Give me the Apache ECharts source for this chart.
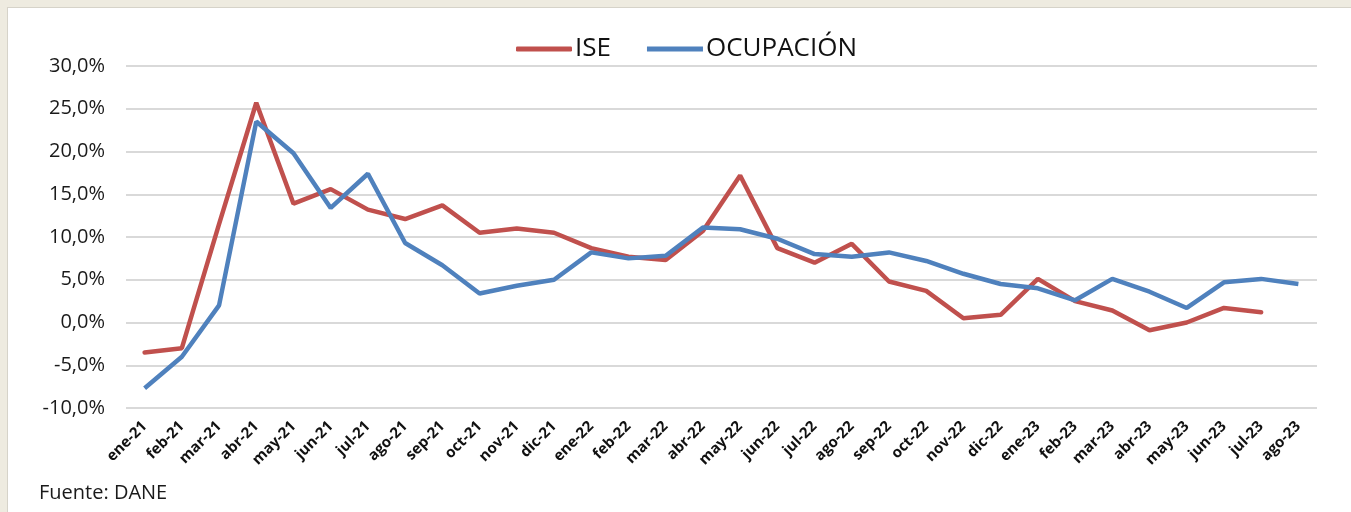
<!DOCTYPE html>
<html>
<head>
<meta charset="utf-8">
<script src="https://cdn.jsdelivr.net/npm/echarts@6/dist/echarts.min.js"></script>
<style>
  html, body { margin: 0; padding: 0; background: #eeebe0; }
  #panel {
    position: absolute; left: 7px; top: 7px; width: 1344px; height: 505px;
    background: #ffffff; border-left: 1px solid #d6d3c9; border-top: 1px solid #d6d3c9;
  }
  #main { position: absolute; left: 0; top: 0; width: 1351px; height: 512px; }
</style>
</head>
<body>
<div id="panel"></div>
<div id="main"></div>
<script>
// meses (ene-21 .. ago-23)
var months = ['ene-21', 'feb-21', 'mar-21', 'abr-21', 'may-21', 'jun-21', 'jul-21', 'ago-21',
  'sep-21', 'oct-21', 'nov-21', 'dic-21', 'ene-22', 'feb-22', 'mar-22', 'abr-22', 'may-22',
  'jun-22', 'jul-22', 'ago-22', 'sep-22', 'oct-22', 'nov-22', 'dic-22', 'ene-23', 'feb-23',
  'mar-23', 'abr-23', 'may-23', 'jun-23', 'jul-23', 'ago-23'];

// variacion anual, %
var ise = [-3.5, -3.0, 11.5, 25.7, 13.9, 15.6, 13.2, 12.1, 13.7, 10.5, 11.0, 10.5, 8.7, 7.7,
  7.3, 10.7, 17.2, 8.7, 7.0, 9.2, 4.8, 3.7, 0.5, 0.9, 5.1, 2.5, 1.4, -0.9, 0.0, 1.7, 1.2, null];

var ocupacion = [-7.7, -4.0, 2.0, 23.5, 19.8, 13.4, 17.4, 9.3, 6.7, 3.4, 4.3, 5.0, 8.2, 7.5,
  7.8, 11.1, 10.9, 9.8, 8.0, 7.7, 8.2, 7.2, 5.7, 4.5, 4.0, 2.6, 5.1, 3.6, 1.7, 4.7, 5.1, 4.5];

var chart = echarts.init(document.getElementById('main'));

var font = '"Open Sans", "Noto Sans", sans-serif';

var option = {
  animation: false,
  textStyle: { fontFamily: font },
  title: {
    text: 'Fuente: DANE',
    left: 39,
    top: 483,
    padding: 0,
    textStyle: { fontFamily: font, fontSize: 20, fontWeight: 'normal', color: '#1a1a1a' }
  },
  legend: {
    left: 516,
    top: 36,
    padding: 0,
    itemGap: 36,
    itemWidth: 56,
    itemHeight: 5,
    data: [
      { name: 'ISE', icon: 'roundRect' },
      { name: 'OCUPACIÓN', icon: 'rect' }
    ],
    textStyle: { fontFamily: font, fontSize: 26, color: '#111111', padding: [0, 0, 0, -2] }
  },
  grid: { left: 126, right: 34, top: 66, bottom: 104 },
  xAxis: {
    type: 'category',
    data: months,
    boundaryGap: true,
    axisLine: { show: false },
    axisTick: { show: false },
    axisLabel: {
      rotate: 45,
      margin: 16,
      interval: 0,
      fontFamily: font,
      fontSize: 15,
      fontWeight: 'bold',
      color: '#111111'
    }
  },
  yAxis: {
    type: 'value',
    min: -10,
    max: 30,
    interval: 5,
    axisLine: { show: false },
    axisTick: { show: false },
    splitLine: { lineStyle: { color: '#d9d9d9', width: 2 } },
    axisLabel: {
      margin: 21,
      fontFamily: font,
      fontSize: 20,
      color: '#1a1a1a',
      formatter: function (v) { return v.toFixed(1).replace('.', ',') + '%'; }
    }
  },
  series: [
    {
      name: 'ISE',
      type: 'line',
      data: ise,
      symbol: 'none',
      color: '#c0504d',
      lineStyle: { width: 4.5, color: '#c0504d', cap: 'round' }
    },
    {
      name: 'OCUPACIÓN',
      type: 'line',
      data: ocupacion,
      symbol: 'none',
      color: '#4f81bd',
      lineStyle: { width: 4.5, color: '#4f81bd' }
    }
  ]
};

chart.setOption(option);
</script>
</body>
</html>
